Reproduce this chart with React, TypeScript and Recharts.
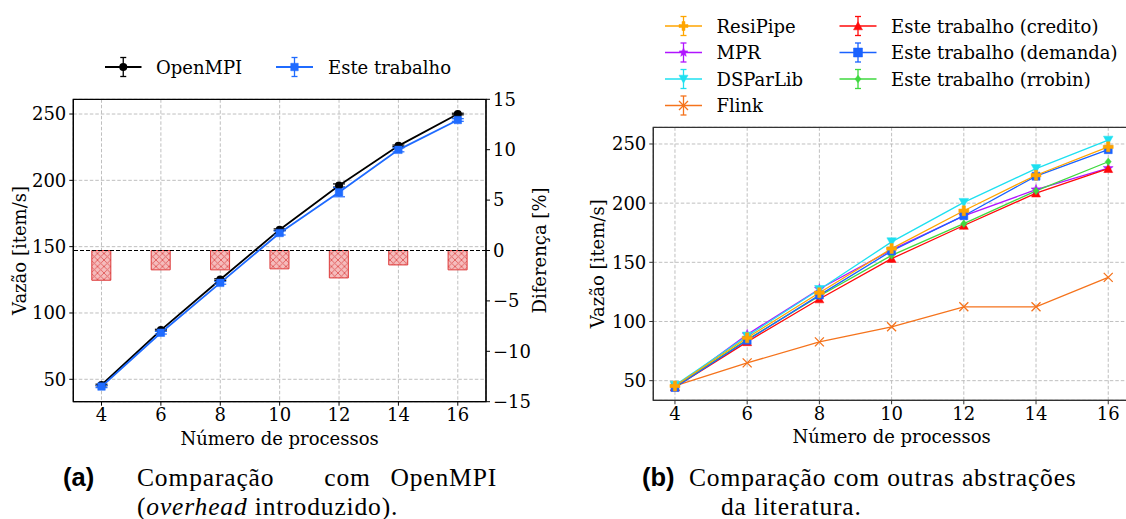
import React from 'react';
import {
  ComposedChart,
  Line,
  Bar,
  XAxis,
  YAxis,
  CartesianGrid,
  ReferenceLine,
  ReferenceArea,
  ErrorBar,
  Label,
} from 'recharts';

// ---------- data ----------
const procs = [4, 6, 8, 10, 12, 14, 16];
const xTicks = [4, 6, 8, 10, 12, 14, 16];

// (a) OpenMPI vs Este trabalho
const openMpi = [45.7, 87.1, 125.2, 162.8, 196.1, 226.0, 250.0];
const esteTrabalho = [44.5, 85.1, 122.7, 160.3, 191.1, 223.0, 245.5];
const openMpiErr = [0.6, 0.6, 0.6, 0.6, 1.2, 0.6, 0.6];
const esteErr = [0.8, 1.0, 1.0, 1.5, 3.5, 1.5, 1.0];
const diffPct = [-2.95, -1.92, -1.92, -1.82, -2.72, -1.43, -1.92];
const leftYTicks = [50, 100, 150, 200, 250];
const rightYTicks = [-15, -10, -5, 0, 5, 10, 15];

// (b) Comparação com outras abstrações
const resiPipe = [45.5, 86.2, 124.3, 161.6, 193.6, 223.6, 247.6];
const mpr = [44.5, 89.0, 127.5, 160.5, 189.3, 211.4, 229.5];
const dsParLib = [46.0, 87.6, 127.0, 167.3, 200.6, 229.2, 253.2];
const flink = [45.5, 65.0, 82.8, 95.5, 112.4, 112.4, 137.3];
const credito = [44.5, 82.8, 119.0, 153.1, 181.1, 208.4, 229.1];
const demanda = [44.2, 84.2, 122.3, 159.6, 189.4, 222.8, 245.2];
const rrobin = [45.0, 84.7, 121.5, 155.9, 182.7, 210.4, 235.0];
const bYTicks = [50, 100, 150, 200, 250];

const dataA = procs.map((p, i) => ({
  p,
  openMpi: openMpi[i],
  openErr: openMpiErr[i],
  este: esteTrabalho[i],
  esteErr: esteErr[i],
  diff: diffPct[i],
}));

const dataB = procs.map((p, i) => ({
  p,
  resiPipe: resiPipe[i],
  mpr: mpr[i],
  dsParLib: dsParLib[i],
  flink: flink[i],
  credito: credito[i],
  demanda: demanda[i],
  rrobin: rrobin[i],
}));

// ---------- styles ----------
const FONT = "'DejaVu Serif', serif";
const FS = 18;
const C = {
  black: '#000000',
  blue: '#1f6bff',
  resi: '#ffa500',
  mpr: '#b014ff',
  ds: '#1ee0f0',
  flink: '#f5731c',
  cred: '#ff0a0a',
  dem: '#1a62ff',
  rr: '#3fd93f',
  grid: '#b8b8b8',
};

type MarkerKind = 'o' | 's' | 'P' | '*' | 'v' | 'x' | '^' | 'D';

function markerPath(kind: MarkerKind, cx: number, cy: number, s: number): string {
  const h = s / 2;
  switch (kind) {
    case 's':
      return `M${cx - h},${cy - h}H${cx + h}V${cy + h}H${cx - h}Z`;
    case 'P': {
      const t = s / 6;
      return `M${cx - t},${cy - h}H${cx + t}V${cy - t}H${cx + h}V${cy + t}H${cx + t}V${cy + h}H${cx - t}V${cy + t}H${cx - h}V${cy - t}H${cx - t}Z`;
    }
    case 'v':
      return `M${cx - h},${cy - h * 0.85}H${cx + h}L${cx},${cy + h * 0.95}Z`;
    case '^':
      return `M${cx - h},${cy + h * 0.85}H${cx + h}L${cx},${cy - h * 0.95}Z`;
    case 'D': {
      const d = h * 0.95;
      return `M${cx},${cy - d}L${cx + d * 0.8},${cy}L${cx},${cy + d}L${cx - d * 0.8},${cy}Z`;
    }
    case '*': {
      let p = '';
      for (let i = 0; i < 10; i++) {
        const r = i % 2 === 0 ? h * 1.05 : h * 0.45;
        const a = -Math.PI / 2 + (i * Math.PI) / 5;
        p += `${i === 0 ? 'M' : 'L'}${cx + r * Math.cos(a)},${cy + r * Math.sin(a)}`;
      }
      return p + 'Z';
    }
    default:
      return '';
  }
}

function Marker({ kind, cx, cy, size, color }: { kind: MarkerKind; cx: number; cy: number; size: number; color: string }) {
  if (kind === 'o') return <circle cx={cx} cy={cy} r={size / 2} fill={color} />;
  if (kind === 'x') {
    const h = size / 2;
    return (
      <path
        d={`M${cx - h},${cy - h}L${cx + h},${cy + h}M${cx + h},${cy - h}L${cx - h},${cy + h}`}
        stroke={color}
        strokeWidth={1.3}
        fill="none"
      />
    );
  }
  return <path d={markerPath(kind, cx, cy, size)} fill={color} stroke={color} strokeWidth={0.5} />;
}

const dotFn = (kind: MarkerKind, color: string, size: number) => (props: any) => {
  const { cx, cy, index } = props;
  if (cx == null || cy == null) return <g key={`e${index}`} />;
  return (
    <g key={`m${kind}${index}`}>
      <Marker kind={kind} cx={cx} cy={cy} size={size} color={color} />
    </g>
  );
};

const minusFmt = (v: number) => (v < 0 ? `\u2212${Math.abs(v)}` : `${v}`);

const tickStyle = { fill: '#000', fontSize: FS, fontFamily: FONT };

const xLabel = (text: string) => (props: any) => {
  const vb = props.viewBox || {};
  return (
    <text
      x={vb.x + vb.width / 2}
      y={vb.y + 43}
      textAnchor="middle"
      fontFamily={FONT}
      fontSize={FS}
      fill="#000"
    >
      {text}
    </text>
  );
};

const yLabel = (text: string, cxAbs: number, chartLeft: number) => (props: any) => {
  const vb = props.viewBox || {};
  const x = cxAbs - chartLeft;
  const y = vb.y + vb.height / 2;
  return (
    <text
      x={x}
      y={y}
      transform={`rotate(-90, ${x}, ${y})`}
      textAnchor="middle"
      dominantBaseline="central"
      fontFamily={FONT}
      fontSize={FS}
      fill="#000"
    >
      {text}
    </text>
  );
};

// legend handle (line + errorbar + marker)
function Handle({ x1, x2, y, color, kind, size, lw }: { x1: number; x2: number; y: number; color: string; kind: MarkerKind; size: number; lw: number }) {
  const mx = (x1 + x2) / 2;
  return (
    <g>
      <line x1={x1} x2={x2} y1={y} y2={y} stroke={color} strokeWidth={lw} />
      <line x1={mx} x2={mx} y1={y - 9.5} y2={y + 9.5} stroke={color} strokeWidth={1.3} />
      <line x1={mx - 3} x2={mx + 3} y1={y - 9.5} y2={y - 9.5} stroke={color} strokeWidth={1.3} />
      <line x1={mx - 3} x2={mx + 3} y1={y + 9.5} y2={y + 9.5} stroke={color} strokeWidth={1.3} />
      <Marker kind={kind} cx={mx} cy={y} size={size} color={color} />
    </g>
  );
}

const legendA = [
  { name: 'OpenMPI', color: C.black, kind: 'o' as MarkerKind, x1: 105, x2: 141.5, tx: 156, y: 67 },
  { name: 'Este trabalho', color: C.blue, kind: 's' as MarkerKind, x1: 276, x2: 313, tx: 328, y: 67 },
];

const legendB = [
  { name: 'ResiPipe', color: C.resi, kind: 'P' as MarkerKind, col: 0, row: 0 },
  { name: 'MPR', color: C.mpr, kind: '*' as MarkerKind, col: 0, row: 1 },
  { name: 'DSParLib', color: C.ds, kind: 'v' as MarkerKind, col: 0, row: 2 },
  { name: 'Flink', color: C.flink, kind: 'x' as MarkerKind, col: 0, row: 3 },
  { name: 'Este trabalho (credito)', color: C.cred, kind: '^' as MarkerKind, col: 1, row: 0 },
  { name: 'Este trabalho (demanda)', color: C.dem, kind: 's' as MarkerKind, col: 1, row: 1 },
  { name: 'Este trabalho (rrobin)', color: C.rr, kind: 'D' as MarkerKind, col: 1, row: 2 },
];
const legendBCols = [
  { x1: 665, x2: 702, tx: 716.5 },
  { x1: 839.5, x2: 876.5, tx: 891 },
];
const legendBRows = [26, 52.5, 79, 105.5];

const SERIF_CAP = "'Liberation Serif', 'Times New Roman', serif";
const SANS_BOLD = "'Liberation Sans', Arial, sans-serif";
const CAP_FS = 25.5;
const CAP_LS = 0.85;
const CAP_Y1 = 486;
const CAP_Y2 = 514.5;

export default function App() {
  const bSeries: { key: string; color: string; kind: MarkerKind; size: number }[] = [
    { key: 'flink', color: C.flink, kind: 'x', size: 9 },
    { key: 'mpr', color: C.mpr, kind: '*', size: 10 },
    { key: 'credito', color: C.cred, kind: '^', size: 9 },
    { key: 'rrobin', color: C.rr, kind: 'D', size: 8 },
    { key: 'demanda', color: C.dem, kind: 's', size: 8 },
    { key: 'dsParLib', color: C.ds, kind: 'v', size: 9.5 },
    { key: 'resiPipe', color: C.resi, kind: 'P', size: 10 },
  ];

  return (
    <div
      style={{
        position: 'fixed',
        left: 0,
        top: 0,
        width: 1126,
        height: 519,
        overflow: 'hidden',
        background: '#fff',
      }}
    >
      {/* (a) */}
      <div style={{ position: 'absolute', left: 0, top: 0 }}>
        <ComposedChart
          width={560}
          height={460}
          data={dataA}
          margin={{ top: 99.3, right: 14, bottom: 28.3, left: 13.3 }}
        >
          <defs>
            <pattern id="hatchX" patternUnits="userSpaceOnUse" width="6.5" height="6.5">
              <rect width="6.5" height="6.5" fill="#f5bcbc" />
              <path d="M0,0L6.5,6.5M6.5,0L0,6.5" stroke="#e05a5a" strokeWidth="0.9" />
            </pattern>
          </defs>
          <CartesianGrid yAxisId="left" stroke={C.grid} strokeDasharray="3.5 2" strokeWidth={0.9} />
          <XAxis
            dataKey="p"
            type="number"
            domain={[3.05, 16.95]}
            ticks={xTicks}
            allowDataOverflow
            height={30}
            tick={tickStyle}
            tickSize={4}
            tickMargin={3}
            stroke="#000"
            interval={0}
          >
            <Label content={xLabel('Número de processos')} />
          </XAxis>
          <YAxis
            yAxisId="left"
            orientation="left"
            type="number"
            domain={[33.1, 261.1]}
            ticks={leftYTicks}
            allowDataOverflow
            width={60}
            tick={tickStyle}
            tickSize={4}
            tickMargin={3}
            stroke="#000"
            interval={0}
          >
            <Label content={yLabel('Vazão [item/s]', 19.5, 0)} />
          </YAxis>
          <YAxis
            yAxisId="right"
            orientation="right"
            type="number"
            domain={[-15, 15]}
            ticks={rightYTicks}
            allowDataOverflow
            width={60}
            tick={tickStyle}
            tickFormatter={minusFmt}
            tickSize={4}
            tickMargin={3}
            stroke="#000"
            interval={0}
          >
            <Label content={yLabel('Diferença [%]', 539.5, 0)} />
          </YAxis>
          <Bar
            yAxisId="right"
            dataKey="diff"
            barSize={19}
            fill="url(#hatchX)"
            stroke="#dd3a3a"
            strokeWidth={1}
            isAnimationActive={false}
          />
          <ReferenceLine yAxisId="right" y={0} stroke="#000" strokeDasharray="4 2" strokeWidth={1} />
          <Line
            yAxisId="left"
            dataKey="openMpi"
            stroke={C.black}
            strokeWidth={1.8}
            dot={dotFn('o', C.black, 8)}
            isAnimationActive={false}
          >
            <ErrorBar dataKey="openErr" width={6} stroke={C.black} strokeWidth={1.2} direction="y" />
          </Line>
          <Line
            yAxisId="left"
            dataKey="este"
            stroke={C.blue}
            strokeWidth={1.8}
            dot={dotFn('s', C.blue, 7.5)}
            isAnimationActive={false}
          >
            <ErrorBar dataKey="esteErr" width={6} stroke={C.blue} strokeWidth={1.2} direction="y" />
          </Line>
          <ReferenceArea
            yAxisId="left"
            x1={3.05}
            x2={16.95}
            y1={33.1}
            y2={261.1}
            fill="none"
            stroke="#000"
            strokeWidth={1.3}
            ifOverflow="visible"
          />
        </ComposedChart>
      </div>

      {/* (b) */}
      <div style={{ position: 'absolute', left: 580, top: 0 }}>
        <ComposedChart
          width={560}
          height={460}
          data={dataB}
          margin={{ top: 127.3, right: 10.1, bottom: 29.7, left: 13.3 }}
        >
          <CartesianGrid stroke={C.grid} strokeDasharray="3.5 2" strokeWidth={0.9} />
          <XAxis
            dataKey="p"
            type="number"
            domain={[3.4, 16.6]}
            ticks={xTicks}
            allowDataOverflow
            height={30}
            tick={tickStyle}
            tickSize={4}
            tickMargin={3}
            stroke="#333"
            interval={0}
          >
            <Label content={xLabel('Número de processos')} />
          </XAxis>
          <YAxis
            type="number"
            domain={[33.4, 264.1]}
            ticks={bYTicks}
            allowDataOverflow
            width={60}
            tick={tickStyle}
            tickSize={4}
            tickMargin={3}
            stroke="#333"
            interval={0}
          >
            <Label content={yLabel('Vazão [item/s]', 598, 580)} />
          </YAxis>
          {bSeries.map((s) => (
            <Line
              key={s.key}
              dataKey={s.key}
              stroke={s.color}
              strokeWidth={1.3}
              dot={dotFn(s.kind, s.color, s.size)}
              isAnimationActive={false}
            />
          ))}
          <ReferenceArea
            x1={3.4}
            x2={16.6}
            y1={33.4}
            y2={264.1}
            fill="none"
            stroke="#333"
            strokeWidth={1.3}
            ifOverflow="visible"
          />
        </ComposedChart>
      </div>

      {/* legends and captions */}
      <svg
        width={1126}
        height={519}
        style={{ position: 'absolute', left: 0, top: 0, pointerEvents: 'none' }}
      >
        {legendA.map((l) => (
          <g key={l.name}>
            <Handle x1={l.x1} x2={l.x2} y={l.y} color={l.color} kind={l.kind} size={l.kind === 'o' ? 8 : 7.5} lw={1.8} />
            <text x={l.tx} y={l.y} dominantBaseline="central" fontFamily={FONT} fontSize={FS} fill="#000">
              {l.name}
            </text>
          </g>
        ))}
        {legendB.map((l) => {
          const c = legendBCols[l.col];
          const y = legendBRows[l.row];
          return (
            <g key={l.name}>
              <Handle x1={c.x1} x2={c.x2} y={y} color={l.color} kind={l.kind} size={l.kind === 'D' ? 8 : 9} lw={1.3} />
              <text x={c.tx} y={y} dominantBaseline="central" fontFamily={FONT} fontSize={FS} fill="#000">
                {l.name}
              </text>
            </g>
          );
        })}

        {/* caption (a) */}
        <text x={63} y={CAP_Y1} fontFamily={SANS_BOLD} fontWeight="bold" fontSize={25.5} fill="#000">
          (a)
        </text>
        <text x={137} y={CAP_Y1} fontFamily={SERIF_CAP} fontSize={CAP_FS} letterSpacing={CAP_LS} fill="#000">
          Comparação
        </text>
        <text x={347.5} y={CAP_Y1} textAnchor="middle" fontFamily={SERIF_CAP} fontSize={CAP_FS} letterSpacing={CAP_LS} fill="#000">
          com
        </text>
        <text x={497} y={CAP_Y1} textAnchor="end" fontFamily={SERIF_CAP} fontSize={CAP_FS} letterSpacing={CAP_LS} fill="#000">
          OpenMPI
        </text>
        <text x={137} y={CAP_Y2} fontFamily={SERIF_CAP} fontSize={CAP_FS} letterSpacing={CAP_LS} fill="#000">
          (<tspan fontStyle="italic">overhead</tspan> introduzido).
        </text>

        {/* caption (b) */}
        <text x={642} y={CAP_Y1} fontFamily={SANS_BOLD} fontWeight="bold" fontSize={25.5} fill="#000">
          (b)
        </text>
        <text x={689} y={CAP_Y1} fontFamily={SERIF_CAP} fontSize={CAP_FS} letterSpacing={CAP_LS} fill="#000">
          Comparação com outras abstrações
        </text>
        <text x={721} y={CAP_Y2} fontFamily={SERIF_CAP} fontSize={CAP_FS} letterSpacing={CAP_LS} fill="#000">
          da literatura.
        </text>
      </svg>
    </div>
  );
}
